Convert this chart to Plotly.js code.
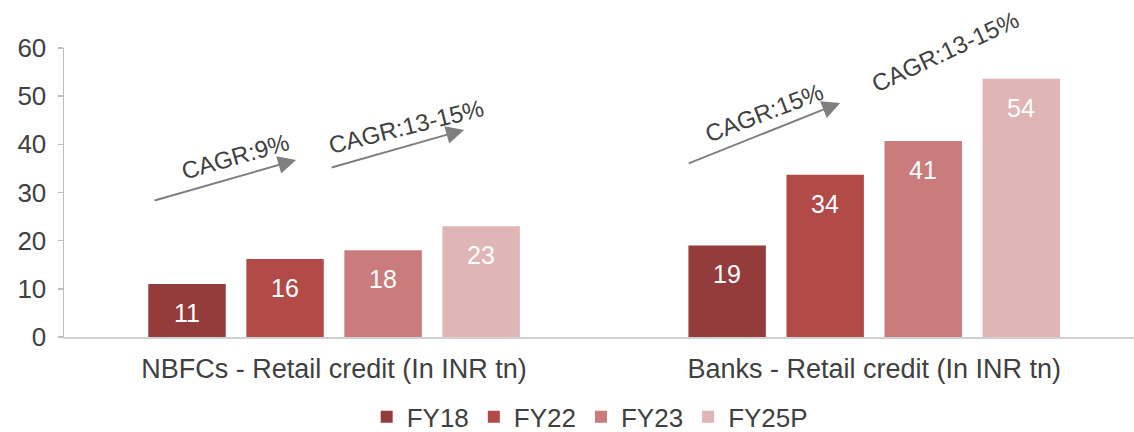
<!DOCTYPE html>
<html>
<head>
<meta charset="utf-8">
<script src="https://cdn.plot.ly/plotly-3.0.1.min.js"></script>
<style>html,body{margin:0;padding:0;background:#fff;}#chart{width:1134px;height:432px;}</style>
</head>
<body>
<div id="chart"></div>
<script>
const categories = ["NBFCs - Retail credit (In INR tn)", "Banks - Retail credit (In INR tn)"];
const seriesNames = ["FY18", "FY22", "FY23", "FY25P"];
const fy18 = [11, 19];
const fy22 = [16.2, 33.7];
const fy23 = [18, 40.7];
const fy25p = [23, 53.6];
const colors = ["#943c3c", "#b24a48", "#c97c7b", "#dfb5b5"];
const cagrLabels = ["CAGR:9%", "CAGR:13-15%", "CAGR:15%", "CAGR:13-15%"];

const allSeries = [fy18, fy22, fy23, fy25p];
const font = "Liberation Sans, Arial, sans-serif";
const textColor = "#404040";

const traces = allSeries.map((vals, i) => ({
  type: "bar",
  name: seriesNames[i],
  x: categories,
  y: vals,
  marker: {color: colors[i]},
  hoverinfo: "none"
}));

const offsets = [-147, -49, 49, 147];
const annotations = [];
allSeries.forEach((vals, i) => {
  vals.forEach((v, j) => {
    annotations.push({
      x: categories[j], y: v, xref: "x", yref: "y",
      text: String(Math.round(v)), showarrow: false,
      xshift: offsets[i], yshift: -29,
      font: {family: font, size: 25, color: "#ffffff"}
    });
  });
});

const arrows = [
  {x: -0.0704, y: 36.75, ax: -143, ay: 41},
  {x: 0.2407, y: 43.0, ax: -134, ay: 38},
  {x: 0.937, y: 48.6, ax: -153, ay: 61},
  {x: 1.289, y: 64.4, ax: -125, ay: 57}
];
arrows.forEach(a => {
  annotations.push({
    x: a.x, y: a.y, xref: "x", yref: "y", ax: a.ax, ay: a.ay, axref: "pixel", ayref: "pixel",
    showarrow: true, arrowhead: 2, arrowsize: 1.8, arrowwidth: 2, arrowcolor: "#7f7f7f", text: ""
  });
});
const cagrPos = [
  {x: -0.1833, y: 37.4, ang: -16},
  {x: 0.1333, y: 43.6, ang: -14},
  {x: 0.7963, y: 46.7, ang: -21},
  {x: 1.1315, y: 59.2, ang: -25}
];
cagrPos.forEach((p, i) => {
  annotations.push({
    x: p.x, y: p.y, xref: "x", yref: "y", text: cagrLabels[i], showarrow: false,
    textangle: p.ang, font: {family: font, size: 24, color: textColor}
  });
});

const layout = {
  width: 1134, height: 432,
  margin: {l: 64, r: 0, t: 48, b: 95, autoexpand: false},
  paper_bgcolor: "#ffffff", plot_bgcolor: "#ffffff",
  barmode: "group", bargap: 0.274, bargroupgap: 0.21,
  showlegend: true,
  legend: {orientation: "h", x: 0.52, xanchor: "center", xref: "container", y: 0.035, yanchor: "middle", yref: "container",
           font: {family: font, size: 26, color: textColor}, itemwidth: 30, traceorder: "normal"},
  xaxis: {
    type: "category", range: [-0.5, 1.481], showline: true, linecolor: "#d0d0d0", linewidth: 2,
    ticks: "", tickangle: 0, automargin: false, ticklabelstandoff: 7, tickfont: {family: font, size: 27, color: textColor}, showgrid: false, zeroline: false,
    fixedrange: true
  },
  yaxis: {
    range: [0, 60], tickvals: [0, 10, 20, 30, 40, 50, 60], showline: true, linecolor: "#bfbfbf", linewidth: 1.5,
    ticks: "outside", ticklen: 5, tickcolor: "#bfbfbf", tickwidth: 1.5, ticklabelstandoff: 6, automargin: false,
    tickfont: {family: font, size: 26, color: textColor}, showgrid: false, zeroline: false, fixedrange: true
  },
  annotations: annotations
};

Plotly.newPlot("chart", traces, layout, {displayModeBar: false, staticPlot: true});
</script>
</body>
</html>
